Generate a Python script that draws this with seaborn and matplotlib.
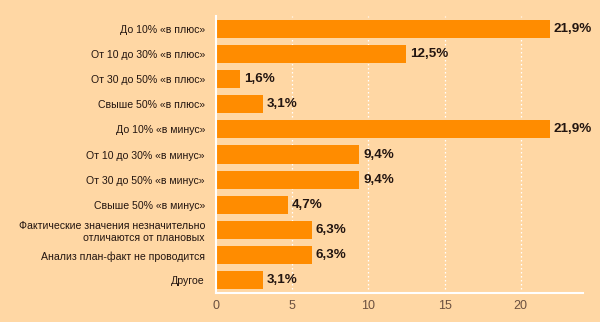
import matplotlib
matplotlib.use("Agg")
import matplotlib.pyplot as plt
import seaborn as sns
import pandas as pd

categories = [
    "До 10% «в плюс»",
    "От 10 до 30% «в плюс»",
    "От 30 до 50% «в плюс»",
    "Свыше 50% «в плюс»",
    "До 10% «в минус»",
    "От 10 до 30% «в минус»",
    "От 30 до 50% «в минус»",
    "Свыше 50% «в минус»",
    "Фактические значения незначительно\nотличаются от плановых",
    "Анализ план-факт не проводится",
    "Другое",
]
values = [21.9, 12.5, 1.6, 3.1, 21.9, 9.4, 9.4, 4.7, 6.3, 6.3, 3.1]
value_labels = ["21,9%", "12,5%", "1,6%", "3,1%", "21,9%", "9,4%", "9,4%", "4,7%", "6,3%", "6,3%", "3,1%"]
xticks = [0, 5, 10, 15, 20]

BG = "#FFD7A4"
BAR = "#FF8C00"

sns.set_theme(style="white")
plt.rcParams["font.family"] = ["Liberation Sans", "DejaVu Sans"]

df = pd.DataFrame({"cat": categories, "val": values})

fig = plt.figure(figsize=(6.0, 3.22), dpi=100, facecolor=BG)
ax = fig.add_axes([0.36, 0.09, 0.612, 0.86])
ax.set_facecolor(BG)

sns.barplot(data=df, x="val", y="cat", color=BAR, saturation=1, width=0.72,
            ax=ax, orient="h", linewidth=0, edgecolor="none")

for i, (v, lab) in enumerate(zip(values, value_labels)):
    ax.text(v + 0.25, i, lab, va="center", ha="left", fontsize=9.6, fontweight="bold", color="#231510")

ax.set_xlim(0, 24.1)
ax.set_ylim(10.5, -0.5)
ax.set_xticks(xticks)
ax.set_xticklabels([str(t) for t in xticks], fontsize=9, color="#6b5040")
ax.tick_params(axis="y", labelsize=7.6, colors="#231510", length=0, pad=8)
ax.tick_params(axis="x", length=0, pad=5)
for lbl in ax.get_yticklabels():
    lbl.set_multialignment("right")
ax.set_xlabel("")
ax.set_ylabel("")

for t in xticks[1:]:
    ax.axvline(t, color="white", linestyle=(0, (1.2, 2)), linewidth=0.9, zorder=0)

for s in ["top", "right"]:
    ax.spines[s].set_visible(False)
ax.spines["left"].set_color("white")
ax.spines["left"].set_linewidth(1.5)
ax.spines["bottom"].set_color("white")
ax.spines["bottom"].set_linewidth(1.5)

fig.savefig("out.png", dpi=100, facecolor=BG)
